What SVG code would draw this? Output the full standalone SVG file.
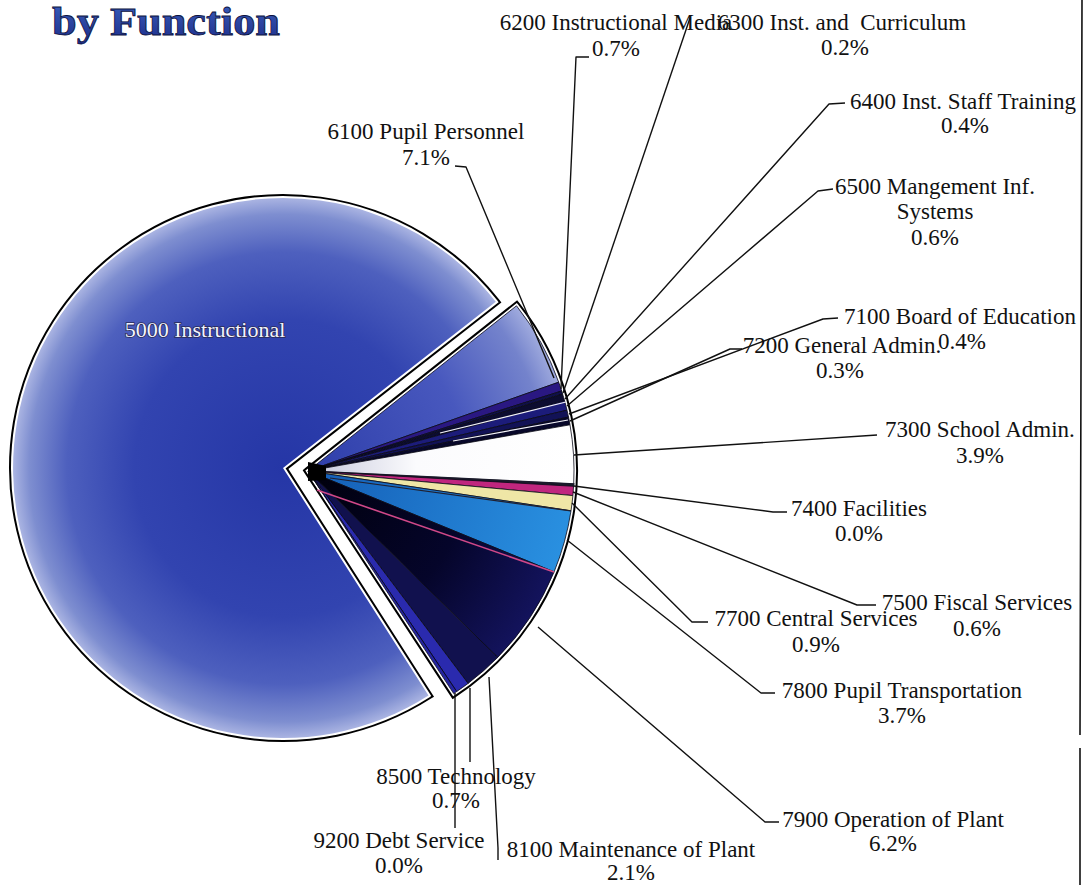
<svg xmlns="http://www.w3.org/2000/svg" width="1089" height="885" viewBox="0 0 1089 885">
<defs>
<style>
.lbl{font-family:"Liberation Serif","Times New Roman",serif;font-size:23px;fill:#111;text-anchor:middle}
.ldr{fill:none;stroke:#111;stroke-width:1.4;stroke-linejoin:round}
.sl{stroke:#0a0a18;stroke-width:0.8}
.hl{fill:none;stroke:#f4f4f8;stroke-width:1.2}
</style>
<radialGradient id="gMain" gradientUnits="userSpaceOnUse" cx="283" cy="468" r="270">
<stop offset="0" stop-color="#2536a6"/>
<stop offset="0.55" stop-color="#3244b0"/>
<stop offset="0.8" stop-color="#4e60be"/>
<stop offset="0.94" stop-color="#7e8ed0"/>
<stop offset="1" stop-color="#aab4e2"/>
</radialGradient>
<radialGradient id="g6100" gradientUnits="userSpaceOnUse" cx="308" cy="471" r="266">
<stop offset="0" stop-color="#2e3eaa"/>
<stop offset="0.6" stop-color="#4858be"/>
<stop offset="0.9" stop-color="#7483cc"/>
<stop offset="1" stop-color="#a0abde"/>
</radialGradient>
<linearGradient id="g7300" gradientUnits="userSpaceOnUse" x1="310" y1="460" x2="575" y2="455">
<stop offset="0" stop-color="#c6c8dc"/>
<stop offset="0.4" stop-color="#fbfbfd"/>
<stop offset="1" stop-color="#ffffff"/>
</linearGradient>
<linearGradient id="g7800" gradientUnits="userSpaceOnUse" x1="320" y1="480" x2="570" y2="560">
<stop offset="0" stop-color="#1560b8"/>
<stop offset="1" stop-color="#2a92e2"/>
</linearGradient>
<radialGradient id="g7900" gradientUnits="userSpaceOnUse" cx="308" cy="471" r="266">
<stop offset="0" stop-color="#00000c"/>
<stop offset="0.6" stop-color="#05052a"/>
<stop offset="1" stop-color="#13135c"/>
</radialGradient>
<linearGradient id="gTitle" x1="0" y1="0" x2="0" y2="1">
<stop offset="0" stop-color="#3c62c0"/>
<stop offset="1" stop-color="#1c2c88"/>
</linearGradient>
</defs>

<rect width="1089" height="885" fill="#ffffff"/>

<g id="title">
<text x="52" y="35" font-family="Liberation Serif, Times New Roman, serif" font-size="41" font-weight="bold" fill="url(#gTitle)" stroke="#0c1240" stroke-width="0.8" textLength="228" lengthAdjust="spacingAndGlyphs">by Function</text>
</g>

<!-- page edge -->
<path d="M1082,0 L1080,735 M1080,748 L1080,885" fill="none" stroke="#111" stroke-width="1.6"/>

<!-- outline underlays -->
<g id="outlines">
<path d="M283,468 L428.5,695.5 A270 270 0 1 1 495.8,301.8 Z" fill="none" stroke="#000" stroke-width="8" stroke-linejoin="miter"/>
<path d="M283,468 L428.5,695.5 A270 270 0 1 1 495.8,301.8 Z" fill="none" stroke="#fff" stroke-width="4" stroke-linejoin="miter"/>
<path d="M308,471 L516.5,305.8 A266 266 0 0 1 453.7,693.6 Z" fill="none" stroke="#000" stroke-width="8" stroke-linejoin="miter"/>
<path d="M308,471 L516.5,305.8 A266 266 0 0 1 453.7,693.6 Z" fill="none" stroke="#fff" stroke-width="4" stroke-linejoin="miter"/>
</g>

<g id="n5000">
<path d="M283,468 L428.5,695.5 A270 270 0 1 1 495.8,301.8 Z" fill="url(#gMain)"/>
<text x="205" y="337" font-family="Liberation Serif, Times New Roman, serif" font-size="22" fill="#f2f4ff" stroke="#2a2c58" stroke-width="1.6" paint-order="stroke" text-anchor="middle">5000 Instructional</text>
</g>

<g id="n6100">
<path class="sl" d="M308,471 L516.5,305.8 A266 266 0 0 1 558.7,382.2 Z" fill="url(#g6100)"/>
<text class="lbl" x="426" y="139">6100 Pupil Personnel</text>
<text class="lbl" x="426" y="165">7.1%</text>
</g>
<g id="n6200">
<path class="sl" d="M308,471 L558.7,382.2 A266 266 0 0 1 561.7,391.0 Z" fill="#2a1882"/>
<text class="lbl" x="616" y="30">6200 Instructional Media</text>
<text class="lbl" x="616" y="56">0.7%</text>
</g>
<g id="n6300">
<path class="sl" d="M308,471 L561.7,391.0 A266 266 0 0 1 562.6,394.1 Z" fill="#10104a"/>
<text class="lbl" x="842" y="30" xml:space="preserve">6300 Inst. and  Curriculum</text>
<text class="lbl" x="845" y="55">0.2%</text>
</g>
<g id="n6400">
<path class="sl" d="M308,471 L562.6,394.1 A266 266 0 0 1 564.6,400.8 Z" fill="#0c0c30"/>
<text class="lbl" x="963" y="109">6400 Inst. Staff Training</text>
<text class="lbl" x="965" y="133">0.4%</text>
</g>
<g id="n6500">
<path class="sl" d="M308,471 L564.6,400.8 A266 266 0 0 1 567.0,410.2 Z" fill="#1c1c7a"/>
<text class="lbl" x="935" y="194">6500 Mangement Inf.</text>
<text class="lbl" x="935" y="219">Systems</text>
<text class="lbl" x="935" y="245">0.6%</text>
</g>
<g id="n7100">
<path class="sl" d="M308,471 L567.0,410.2 A266 266 0 0 1 568.5,417.1 Z" fill="#121256"/>
<text class="lbl" x="960" y="324">7100 Board of Education</text>
<text class="lbl" x="962" y="349">0.4%</text>
</g>
<g id="n7200">
<path class="sl" d="M308,471 L568.5,417.1 A266 266 0 0 1 570.0,424.8 Z" fill="#08082a"/>
<text class="lbl" x="842" y="353">7200 General Admin.</text>
<text class="lbl" x="840" y="378">0.3%</text>
</g>
<g id="n7300">
<path class="sl" d="M308,471 L570.0,424.8 A266 266 0 0 1 573.7,484.0 Z" fill="url(#g7300)"/>
<text class="lbl" x="980" y="437">7300 School Admin.</text>
<text class="lbl" x="980" y="463">3.9%</text>
</g>
<g id="n7400">
<path d="M308,471 L573.7,484.0 A266 266 0 0 1 573.5,486.3 Z" fill="#1a1a2a" stroke="#1a1a2a" stroke-width="1.6"/>
<text class="lbl" x="859" y="516">7400 Facilities</text>
<text class="lbl" x="859" y="541">0.0%</text>
</g>
<g id="n7500">
<path class="sl" d="M308,471 L573.5,486.3 A266 266 0 0 1 572.9,495.6 Z" fill="#c0267e"/>
<text class="lbl" x="977" y="610">7500 Fiscal Services</text>
<text class="lbl" x="977" y="636">0.6%</text>
</g>
<g id="n7700">
<path class="sl" d="M308,471 L572.9,495.6 A266 266 0 0 1 571.0,510.8 Z" fill="#efe6a6"/>
<text class="lbl" x="816" y="626">7700 Central Services</text>
<text class="lbl" x="816" y="652">0.9%</text>
</g>
<g id="n7800">
<path class="sl" d="M308,471 L571.0,510.8 A266 266 0 0 1 554.1,571.9 Z" fill="url(#g7800)"/>
<text class="lbl" x="902" y="698">7800 Pupil Transportation</text>
<text class="lbl" x="902" y="723">3.7%</text>
</g>
<g id="n7900">
<path class="sl" d="M308,471 L554.1,571.9 A266 266 0 0 1 497.7,657.4 Z" fill="url(#g7900)"/>
<text class="lbl" x="893" y="827">7900 Operation of Plant</text>
<text class="lbl" x="893" y="851">6.2%</text>
</g>
<g id="n8100">
<path class="sl" d="M308,471 L497.7,657.4 A266 266 0 0 1 468.1,683.4 Z" fill="#11114e"/>
<text class="lbl" x="631" y="857">8100 Maintenance of Plant</text>
<text class="lbl" x="631" y="880">2.1%</text>
</g>
<g id="n8500">
<path class="sl" d="M308,471 L468.1,683.4 A266 266 0 0 1 456.7,691.5 Z" fill="#2a2aae"/>
<text class="lbl" x="456" y="784">8500 Technology</text>
<text class="lbl" x="456" y="808">0.7%</text>
</g>
<g id="n9200">
<path class="sl" d="M308,471 L456.7,691.5 A266 266 0 0 1 453.7,693.6 Z" fill="#2424a0"/>
<text class="lbl" x="399" y="848">9200 Debt Service</text>
<text class="lbl" x="399" y="873">0.0%</text>
</g>

<!-- rendering highlights inside the pie -->
<g id="pie-details">
<path class="hl" d="M440,433 L566,402"/>
<path class="hl" d="M453,441 L568,420"/>
<path d="M317,490 L554,572" fill="none" stroke="#d04888" stroke-width="1.6"/>
<path d="M330,478 L571,511" fill="none" stroke="#202030" stroke-width="1.2"/>
<path d="M308,462 L326,466 L326,480 L308,481 Z" fill="#000"/>
</g>

<g id="connectors">
<path class="ldr" d="M455,166 L466,167 L554,378"/>
<path class="ldr" d="M589,57 L576,57 L561,389"/>
<path class="ldr" d="M690,18 L563,393"/>
<path class="ldr" d="M845,103 L829,104 L565,399"/>
<path class="ldr" d="M833,189 L818,191 L567,406"/>
<path class="ldr" d="M838,318 L823,319 L569,414"/>
<path class="ldr" d="M742,349 L730,349 L570,421"/>
<path class="ldr" d="M877,435 L574,455"/>
<path class="ldr" d="M787,512 L773,512 L574,486"/>
<path class="ldr" d="M876,605 L857,605 L573,492"/>
<path class="ldr" d="M708,622 L692,622 L572,503"/>
<path class="ldr" d="M775,693 L761,693 L567,540"/>
<path class="ldr" d="M779,822 L765,822 L538,627"/>
<path class="ldr" d="M498,860 L498,848 L489,677"/>
<path class="ldr" d="M470,762 L470,688"/>
<path class="ldr" d="M455,828 L455,693"/>
</g>
</svg>
